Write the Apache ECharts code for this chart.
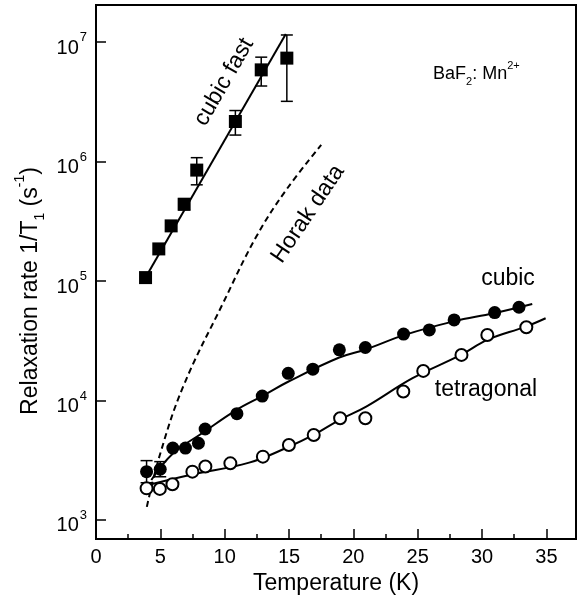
<!DOCTYPE html>
<html>
<head>
<meta charset="utf-8">
<script src="https://cdn.jsdelivr.net/npm/echarts@6/dist/echarts.min.js"></script>
<style>html,body{margin:0;padding:0;background:#fff;}#c{width:577px;height:610px;}</style>
</head>
<body>
<div id="c"></div>
<script>
// ---- data ----
const xTicks = [0, 5, 10, 15, 20, 25, 30, 35];
const yTickExponents = [3, 4, 5, 6, 7];

const cubicFast = [[3.85,1.07e5],[4.88,1.86e5],[5.84,2.9e5],[6.85,4.4e5],[7.83,8.5e5],[10.83,2.17e6],[12.84,5.87e6],[14.83,7.36e6]];
const cubicFastErr = [[6.85,3.95e5,4.9e5],[7.83,6.4e5,1.08e6],[10.83,1.67e6,2.68e6],[12.84,4.3e6,7.5e6],[14.83,3.2e6,1.15e7]];
const cubicFastFit = [[3.85,1.07e5],[14.75,1.17e7]];

const horak = [[3.95,1288],[4.96,3499],[6.77,13062],[9.87,65313],[12.46,236000],[14.78,580000],[17.5,1380000]];

const cubic = [[3.93,2540],[4.99,2660],[5.97,4000],[6.95,4000],[7.96,4390],[8.48,5780],[10.95,7770],[12.92,10900],[14.94,16900],[16.85,18300],[18.91,26600],[20.93,27800],[23.9,36000],[25.9,39000],[27.83,47300],[30.98,54500],[32.87,60400]];
const cubicErr = [[3.93,2050,3140],[4.99,2300,3080]];
const cubicFit = [[4.3,2163],[6,3614],[8.3,5370],[10.9,8318],[13,11000],[15,14500],[18.9,22909],[21,26915],[24,35481],[27.8,46000],[30.9,53827],[33.9,64417]];

const tetragonal = [[3.93,1840],[4.96,1820],[5.94,1990],[7.49,2540],[8.5,2800],[10.44,2980],[12.97,3390],[14.99,4250],[16.92,5150],[18.97,7110],[20.93,7100],[23.88,11900],[25.43,17700],[28.4,24100],[30.41,35400],[33.44,41100]];
const tetragonalFit = [[3.95,1950],[7.3,2382],[11.9,3020],[14.9,4064],[16.9,5152],[18.9,6871],[21,8892],[24.6,15381],[28.35,24099],[30.41,32211],[33.4,41591],[34.94,48865]];

// ---- chart ----
const FONT = '"Liberation Sans", Arial, Helvetica, sans-serif';
const chart = echarts.init(document.getElementById('c'), null, {renderer: 'canvas'});

function errRender(params, api) {
  const x = api.value(0), lo = api.value(1), hi = api.value(2);
  const pLo = api.coord([x, lo]), pHi = api.coord([x, hi]);
  const w = 6;
  const st = {stroke: '#000', lineWidth: 1.5};
  return {type: 'group', children: [
    {type: 'line', shape: {x1: pLo[0], y1: pLo[1], x2: pHi[0], y2: pHi[1]}, style: st},
    {type: 'line', shape: {x1: pLo[0]-w, y1: pLo[1], x2: pLo[0]+w, y2: pLo[1]}, style: st},
    {type: 'line', shape: {x1: pHi[0]-w, y1: pHi[1], x2: pHi[0]+w, y2: pHi[1]}, style: st}
  ]};
}

const fitLine = (data, dashed) => ({
  type: 'line', data: data, smooth: 0.4, showSymbol: false, silent: true,
  lineStyle: {color: '#000', width: 2, type: dashed ? [6, 4] : 'solid'}, z: 2
});
const pts = (data, symbol, size, style) => ({
  type: 'scatter', data: data, symbol: symbol, symbolSize: size, silent: true,
  itemStyle: Object.assign({opacity: 1}, style), z: 4
});

const option = {
  animation: false,
  backgroundColor: '#fff',
  textStyle: {fontFamily: FONT, color: '#000'},
  grid: {left: 96, right: 1, top: 5, bottom: 71, show: true, borderColor: '#000', borderWidth: 2, backgroundColor: 'transparent', containLabel: false},
  xAxis: [{
    type: 'value', min: 0, max: 37.3, interval: 5,
    name: 'Temperature (K)', nameLocation: 'middle', nameGap: 32,
    nameTextStyle: {fontSize: 23, color: '#000', fontFamily: FONT},
    axisLine: {show: true, onZero: false, lineStyle: {color: '#000', width: 2}},
    axisTick: {show: true, inside: true, length: 10, lineStyle: {color: '#000', width: 1.5}},
    axisLabel: {fontSize: 20, color: '#000', margin: 8, fontFamily: FONT, showMaxLabel: false,
      formatter: v => xTicks.indexOf(v) >= 0 ? String(v) : ''},
    splitLine: {show: false}
  }, {
    type: 'value', min: 0, max: 37.3, interval: 2.5, position: 'bottom',
    axisLine: {show: false},
    axisTick: {show: true, inside: true, length: 5, lineStyle: {color: '#000', width: 1.5}},
    axisLabel: {show: false}, splitLine: {show: false}
  }],
  yAxis: {
    type: 'log', logBase: 10, min: 693, max: 2.05e7,
    axisLine: {show: true, onZero: false, lineStyle: {color: '#000', width: 2}},
    axisTick: {show: true, inside: true, length: 10, lineStyle: {color: '#000', width: 1.5}},
    minorTick: {show: false},
    splitLine: {show: false},
    axisLabel: {
      color: '#000', margin: 9, fontFamily: FONT,
      formatter: function (v) {
        const e = Math.log10(v);
        const r = Math.round(e);
        if (Math.abs(e - r) > 1e-6 || yTickExponents.indexOf(r) < 0) return '';
        return '{b|10}{s|' + r + '}';
      },
      rich: {
        b: {fontSize: 20, lineHeight: 22, verticalAlign: 'top', padding: [7, 0, 0, 0], fontFamily: FONT, color: '#000'},
        s: {fontSize: 13, lineHeight: 14, verticalAlign: 'top', padding: [0, 0, 0, 1], fontFamily: FONT, color: '#000'}
      }
    }
  },
  series: [
    fitLine(horak, true),
    fitLine(cubicFastFit, false),
    fitLine(cubicFit, false),
    fitLine(tetragonalFit, false),
    {type: 'custom', data: cubicFastErr, renderItem: errRender, z: 3, silent: true},
    {type: 'custom', data: cubicErr, renderItem: errRender, z: 3, silent: true},
    pts(cubicFast, 'rect', 13, {color: '#000'}),
    pts(cubic, 'circle', 13, {color: '#000'}),
    pts(tetragonal, 'circle', 12, {color: '#fff', borderColor: '#000', borderWidth: 2})
  ],
  graphic: [
    {type: 'text', x: 25, y: 291, rotation: Math.PI / 2, z: 10,
      style: {text: '{b|Relaxation rate 1/T}{sub|1}{b| (s}{sup|-1}{b|)}', align: 'center', verticalAlign: 'middle',
        rich: {
          b: {fontSize: 23, lineHeight: 24, verticalAlign: 'top', padding: [6, 0, 0, 0], fontFamily: FONT, fill: '#000'},
          sup: {fontSize: 14, lineHeight: 14, verticalAlign: 'top', padding: [0, 0, 0, 0], fontFamily: FONT, fill: '#000'},
          sub: {fontSize: 14, lineHeight: 14, verticalAlign: 'top', padding: [20, 0, 0, 0], fontFamily: FONT, fill: '#000'}
        }}},
    {type: 'text', x: 433, y: 70, z: 10,
      style: {text: '{b|BaF}{sub|2}{b|: Mn}{sup|2+}', align: 'left', verticalAlign: 'middle',
        rich: {
          b: {fontSize: 18, lineHeight: 19, verticalAlign: 'top', padding: [5, 0, 0, 0], fontFamily: FONT, fill: '#000'},
          sup: {fontSize: 11, lineHeight: 11, verticalAlign: 'top', fontFamily: FONT, fill: '#000'},
          sub: {fontSize: 11, lineHeight: 11, verticalAlign: 'top', padding: [16, 0, 0, 0], fontFamily: FONT, fill: '#000'}
        }}},
    {type: 'text', x: 224, y: 82, rotation: 60 * Math.PI / 180, z: 10,
      style: {text: 'cubic fast', fontSize: 23, fontFamily: FONT, fill: '#000', align: 'center', verticalAlign: 'middle'}},
    {type: 'text', x: 308, y: 214, rotation: 56 * Math.PI / 180, z: 10,
      style: {text: 'Horak data', fontSize: 23, fontFamily: FONT, fill: '#000', align: 'center', verticalAlign: 'middle'}},
    {type: 'text', x: 508, y: 279, z: 10,
      style: {text: 'cubic', fontSize: 23, fontFamily: FONT, fill: '#000', align: 'center', verticalAlign: 'middle'}},
    {type: 'text', x: 486, y: 390, z: 10,
      style: {text: 'tetragonal', fontSize: 23, fontFamily: FONT, fill: '#000', align: 'center', verticalAlign: 'middle'}}
  ]
};
chart.setOption(option);
</script>
</body>
</html>
